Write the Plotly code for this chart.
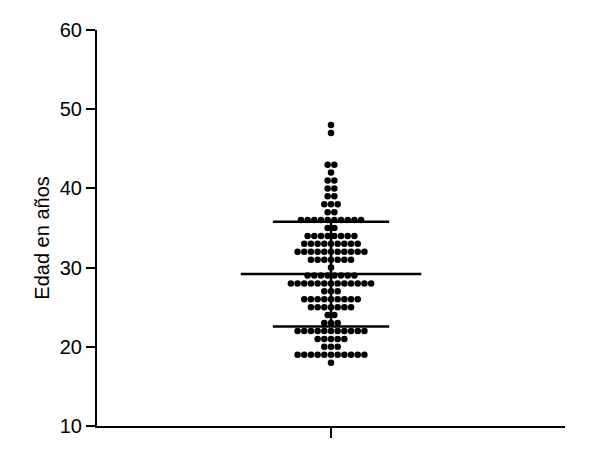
import numpy as np
import plotly.graph_objects as go

# Edad (años) y número de personas con esa edad
ages = [48, 47, 43, 42, 41, 40, 39, 38, 37, 36, 35, 34, 33, 32, 31, 30,
        29, 28, 27, 26, 25, 24, 23, 22, 21, 20, 19, 18]
counts = [1, 1, 2, 1, 2, 2, 2, 3, 2, 10, 2, 8, 9, 11, 7, 1,
          8, 13, 3, 9, 7, 2, 3, 11, 5, 3, 11, 1]

y_ticks = [10, 20, 30, 40, 50, 60]

# Expand to individual observations with a simple row (beeswarm) layout
xs, ys = [], []
for age, n in zip(ages, counts):
    for i in range(n):
        xs.append(i - (n - 1) / 2)
        ys.append(age)

values = np.array(ys, dtype=float)
mean = values.mean()
sd = values.std(ddof=1)

mean_half = 13.5   # half width of the mean line (dot units)
sd_half = 8.7      # half width of the SD caps

fig = go.Figure()

line_style = dict(color='black', width=2.5)

# mean line
fig.add_trace(go.Scatter(x=[-mean_half, mean_half], y=[mean, mean],
                         mode='lines', line=line_style, hoverinfo='skip'))
# SD caps and vertical bar
fig.add_trace(go.Scatter(x=[-sd_half, sd_half], y=[mean + sd, mean + sd],
                         mode='lines', line=line_style, hoverinfo='skip'))
fig.add_trace(go.Scatter(x=[-sd_half, sd_half], y=[mean - sd, mean - sd],
                         mode='lines', line=line_style, hoverinfo='skip'))
fig.add_trace(go.Scatter(x=[0, 0], y=[mean - sd, mean + sd],
                         mode='lines', line=line_style, hoverinfo='skip'))

# individual points
fig.add_trace(go.Scatter(x=xs, y=ys, mode='markers',
                         marker=dict(color='black', size=6.5, line=dict(width=0))))

font_family = 'Liberation Sans, Arial, Helvetica, sans-serif'

# the page adds an 8px body margin, so the margins are offset to compensate
fig.update_layout(
    width=612, height=469,
    margin=dict(l=89, r=55, t=22, b=51),
    plot_bgcolor='white', paper_bgcolor='white',
    showlegend=False,
    font=dict(family=font_family, color='black', size=18),
    xaxis=dict(range=[-35, 35], showgrid=False, zeroline=False,
               showline=True, linecolor='black', linewidth=2,
               ticks='outside', ticklen=10, tickwidth=2, tickcolor='black',
               tickvals=[0], ticktext=[''], fixedrange=True),
    yaxis=dict(range=[10, 60], showgrid=False, zeroline=False,
               showline=True, linecolor='black', linewidth=2,
               ticks='outside', ticklen=9, tickwidth=2, tickcolor='black',
               tickvals=y_ticks, tickfont=dict(size=20)),
)

# y axis title placed as an annotation so it sits where the original does
fig.add_annotation(text='Edad en años', textangle=-90,
                   xref='paper', yref='paper', x=-0.118, y=0.475,
                   xanchor='center', yanchor='middle', showarrow=False,
                   font=dict(size=20, color='black'))

fig.write_html("out.html")
